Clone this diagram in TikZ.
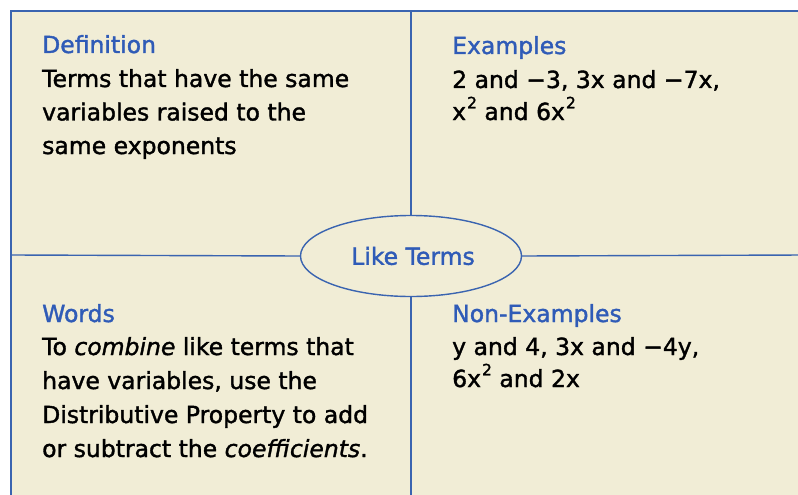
\documentclass[tikz,border=0pt]{standalone}
\usepackage{fontspec}
\setmainfont{DejaVu Sans}[FakeBold=1.5]
\usetikzlibrary{shapes.geometric}
\definecolor{bg}{HTML}{F1EDD6}
\definecolor{lineblue}{HTML}{3A64B0}
\definecolor{headblue}{HTML}{2F5BB7}
\newcommand{\sq}{\kern1pt\raisebox{0.5em}{\fontsize{15.5}{16}\selectfont 2}}
\begin{document}
\begin{tikzpicture}[x=1pt,y=-1pt,
  txt/.style={anchor=base west,inner sep=0pt,font=\fontsize{23.5}{26}\selectfont,text=black},
  head/.style={txt,text=headblue},
  divider/.style={draw=lineblue,line width=1.4pt}]
\useasboundingbox (0,0) rectangle (798,495);
\fill[white] (0,0) rectangle (798,495);
\draw[fill=bg,draw=lineblue,line width=1.6pt] (11,11) rectangle (820,520);
\coordinate (top) at (411,11);
\coordinate (bottom) at (411,500);
\coordinate (left) at (11,255);
\coordinate (right) at (805,255);
\node[ellipse,draw=lineblue,line width=1.4pt,fill=bg,minimum width=221pt,minimum height=81pt,inner sep=0pt] (lt) at (411,256) {};
\draw[divider] (top) -- (lt.north);
\draw[divider] (lt.south) -- (bottom);
\draw[divider] (left) -- (lt.west);
\draw[divider] (lt.east) -- (right);
\node[head,anchor=center,font=\fontsize{23.5}{26}\selectfont] (ltl) at (413,256) {Like Terms};
% Definition
\node[head] (d0) at (42,53) {Definition};
\node[txt] (d1) at (42,87) {Terms that have the same};
\node[txt] (d2) at (42,120.5) {variables raised to the};
\node[txt] (d3) at (42,154) {same exponents};
% Examples
\node[head] (e0) at (452,54) {Examples};
\node[txt] (e1) at (452,88) {2 and −3, 3x and −7x,};
\node[txt] (e2) at (452,120) {x\sq{} and 6x\sq};
% Words
\node[head] (w0) at (42,322) {Words};
\node[txt] (w1) at (42,355) {To \textit{combine} like terms that};
\node[txt] (w2) at (42,389) {have variables, use the};
\node[txt] (w3) at (42,423) {Distributive Property to add};
\node[txt] (w4) at (42,457) {or subtract the \textit{coefficients}.};
% Non-Examples
\node[head] (n0) at (452,322) {Non-Examples};
\node[txt] (n1) at (452,355) {y and 4, 3x and −4y,};
\node[txt] (n2) at (452,387) {6x\sq{} and 2x};
\end{tikzpicture}
\end{document}
